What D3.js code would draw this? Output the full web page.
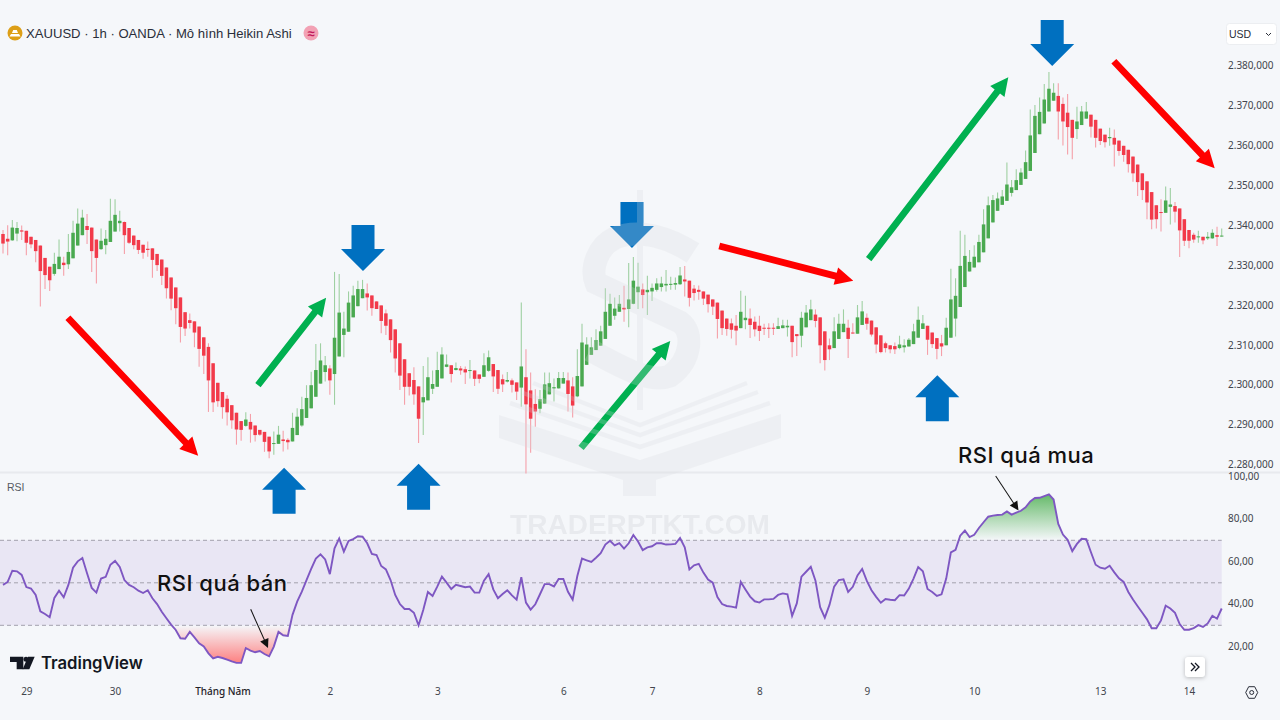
<!DOCTYPE html>
<html>
<head>
<meta charset="utf-8">
<script src="https://cdn.jsdelivr.net/npm/d3@7"></script>
<style>
  html, body { margin: 0; padding: 0; background: #f5f7fa; }
  svg { display: block; }
</style>
</head>
<body>
<svg id="chart" width="1280" height="720" font-family="'Liberation Sans', sans-serif"></svg>
<script>
// candle direction, one letter per hourly bar
const candleDir = ("RRGGRRRRRR" + "RGGRGGGGRR" + "RGGGGGRRRR" + "RRRRRRRRRR" + "RRRRRRRRRR" + "RRGRRRRRGG" +
  "RRGGGGGGGG" + "RGGGGGGGRR" + "RRRRRRRRRR" + "GGGGGGRGRR" + "GRRGGRRRGR" + "RGRRRGGGGG" + "GRRGGGGGGG" +
  "GGGRGGGRGG" + "GGGGGGRRRR" + "RRRRRRRRGG" + "RRRRRRGGGR" + "RGGGRRRRGG" + "GRRGGRRRRR" + "RRGGGGGGRR" +
  "RRGGGGGGGG" + "GGGGGGGGGG" + "GGGGGGRRRR" + "GGGRRRRGRR" + "RRRRRRRRRG" + "GRRRRRGRGG" + "RG").split("");

const bodyTop = [
  2337.9,2336.7,2339.5,2339.4,2338.8,2338.7,2337.2,2336.4,2335.0,2331.9,
  2329.7,2330.4,2332.2,2330.7,2333.4,2338.2,2340.5,2342.0,2339.9,2339.5,
  2336.5,2336.2,2336.7,2341.2,2342.7,2341.2,2340.9,2339.4,2337.5,2336.4,
  2335.2,2334.2,2334.3,2332.9,2331.5,2329.5,2327.0,2324.5,2322.0,2318.3,
  2316.3,2316.0,2314.7,2312.0,2309.6,2305.5,2300.6,2298.3,2296.6,2295.0,
  2293.1,2291.0,2291.4,2290.8,2289.9,2288.8,2288.3,2287.1,2285.5,2287.6,
  2286.4,2286.3,2289.3,2292.1,2294.0,2296.8,2300.0,2303.8,2306.2,2305.0,
  2304.2,2311.9,2318.2,2314.2,2320.7,2322.5,2324.1,2324.1,2323.0,2322.5,
  2321.0,2320.0,2318.0,2316.5,2314.0,2310.5,2306.5,2303.0,2301.3,2299.7,
  2297.0,2302.0,2300.3,2303.8,2307.7,2305.2,2305.0,2304.3,2304.2,2304.0,
  2303.8,2303.7,2302.7,2305.0,2307.0,2305.3,2303.8,2301.5,2301.3,2301.2,
  2300.7,2304.7,2302.0,2298.7,2295.3,2296.5,2300.2,2300.5,2299.5,2301.8,
  2301.8,2301.2,2299.7,2302.3,2310.7,2310.2,2309.5,2311.3,2313.5,2318.4,
  2320.4,2319.2,2320.4,2319.4,2321.5,2326.2,2324.7,2324.0,2323.9,2324.4,
  2325.5,2325.5,2325.4,2325.4,2325.6,2327.5,2326.5,2326.2,2324.2,2323.9,
  2323.5,2322.7,2321.5,2320.7,2318.7,2316.7,2315.5,2314.9,2318.4,2316.9,
  2316.7,2315.9,2314.9,2314.4,2314.4,2314.4,2314.8,2315.0,2314.9,2314.9,
  2312.8,2316.9,2318.2,2319.0,2317.7,2317.0,2313.5,2310.0,2313.5,2315.4,
  2315.4,2314.4,2313.2,2317.0,2318.5,2316.9,2316.2,2314.5,2312.5,2310.5,
  2310.0,2309.8,2310.2,2310.0,2311.4,2313.5,2316.4,2315.5,2314.9,2313.2,
  2311.8,2310.5,2314.4,2321.5,2322.4,2329.9,2332.4,2330.9,2332.2,2335.9,
  2340.3,2345.1,2346.4,2346.8,2347.3,2350.3,2349.6,2351.4,2353.3,2355.9,
  2362.6,2367.5,2368.5,2371.6,2374.3,2373.3,2372.5,2370.5,2368.3,2366.5,
  2366.1,2368.6,2368.6,2367.8,2366.5,2364.3,2362.8,2362.2,2362.0,2361.3,
  2360.0,2359.0,2357.3,2355.3,2353.1,2351.1,2348.4,2345.1,2343.4,2346.3,
  2345.3,2344.9,2344.3,2341.6,2338.9,2337.7,2337.3,2337.2,2337.2,2338.2,
  2337.6,2337.5
];
const bodyBottom = [
  2335.5,2336.0,2336.3,2338.0,2338.5,2335.7,2335.3,2333.6,2328.6,2327.6,
  2326.3,2327.9,2329.1,2330.1,2330.3,2331.8,2335.0,2337.6,2338.9,2333.6,
  2331.9,2334.1,2335.1,2335.9,2338.5,2340.6,2337.6,2335.7,2335.1,2333.9,
  2333.2,2333.9,2331.4,2330.1,2327.4,2324.3,2321.7,2319.3,2314.6,2314.2,
  2315.6,2313.2,2309.1,2307.4,2301.2,2295.7,2296.0,2294.5,2293.2,2291.2,
  2288.9,2288.8,2289.8,2288.9,2287.5,2287.6,2285.8,2283.4,2285.3,2285.3,
  2286.0,2285.7,2285.9,2287.5,2289.9,2291.8,2294.2,2297.1,2300.4,2303.3,
  2301.2,2302.8,2307.2,2312.6,2313.4,2317.0,2319.8,2321.8,2322.0,2319.3,
  2319.1,2316.1,2314.9,2311.3,2306.7,2302.4,2299.6,2299.6,2297.7,2291.6,
  2295.7,2296.2,2299.1,2299.6,2301.7,2304.6,2302.8,2303.8,2303.7,2303.2,
  2303.6,2301.6,2301.6,2302.1,2303.6,2302.2,2299.1,2300.2,2300.9,2300.1,
  2298.4,2299.4,2295.2,2291.6,2293.4,2294.1,2295.4,2297.7,2299.2,2299.2,
  2300.4,2297.8,2294.9,2297.2,2299.7,2305.1,2307.6,2308.8,2309.9,2311.6,
  2314.9,2317.4,2318.4,2319.0,2319.1,2320.4,2323.3,2322.6,2323.3,2323.5,
  2323.9,2324.6,2325.0,2325.2,2325.2,2325.3,2326.0,2321.9,2323.1,2323.4,
  2321.7,2320.3,2319.7,2316.6,2314.3,2314.1,2313.9,2313.7,2314.3,2316.3,
  2315.1,2314.0,2313.6,2314.2,2314.2,2314.2,2314.1,2314.3,2314.5,2310.8,
  2312.3,2312.4,2314.5,2316.3,2316.1,2310.0,2306.3,2309.0,2309.3,2311.6,
  2313.3,2311.6,2313.0,2312.9,2315.1,2315.4,2312.7,2310.2,2308.3,2309.3,
  2309.0,2309.0,2309.3,2309.5,2309.7,2310.3,2311.9,2314.1,2311.4,2310.3,
  2309.1,2309.7,2310.0,2311.9,2316.7,2319.6,2324.6,2328.5,2329.5,2330.8,
  2333.3,2336.8,2340.8,2343.7,2345.2,2346.2,2348.2,2348.9,2350.2,2351.7,
  2353.7,2358.2,2362.9,2365.6,2368.6,2371.3,2368.6,2366.1,2364.7,2362.0,
  2364.2,2365.2,2366.8,2364.8,2362.0,2361.2,2360.9,2361.9,2360.3,2358.7,
  2357.7,2355.4,2353.1,2350.9,2348.9,2345.8,2341.5,2341.6,2343.3,2343.2,
  2344.7,2343.5,2338.8,2336.2,2336.2,2336.5,2337.1,2336.3,2336.8,2336.8,
  2337.2,2337.3
];
const wickTop = [
  2338.9,2340.1,2341.4,2340.9,2340.0,2338.7,2337.2,2336.4,2335.0,2331.9,
  2329.7,2333.2,2336.5,2332.2,2337.9,2341.2,2344.3,2344.0,2342.9,2339.5,
  2336.5,2339.3,2338.9,2346.7,2346.6,2343.7,2341.0,2339.4,2337.5,2336.4,
  2335.2,2336.0,2334.3,2332.9,2331.5,2329.5,2327.0,2324.5,2322.0,2318.3,
  2318.0,2316.0,2314.7,2312.0,2310.5,2305.5,2300.6,2298.3,2297.5,2295.0,
  2293.1,2291.0,2293.2,2292.8,2289.9,2288.8,2288.3,2287.1,2288.4,2289.8,
  2288.6,2286.7,2293.1,2294.2,2297.1,2300.0,2303.4,2310.3,2310.5,2307.3,
  2305.0,2328.4,2327.9,2318.4,2323.5,2324.9,2326.2,2326.4,2325.5,2322.5,
  2321.0,2320.0,2319.0,2316.5,2314.0,2310.5,2306.5,2303.0,2304.5,2299.7,
  2304.8,2307.0,2303.7,2308.4,2309.5,2307.7,2305.0,2305.7,2304.8,2304.7,
  2306.3,2303.7,2302.7,2308.0,2308.7,2305.3,2303.8,2302.7,2303.3,2301.7,
  2300.7,2320.7,2309.0,2303.2,2299.0,2298.8,2303.2,2303.2,2301.7,2303.3,
  2303.3,2303.2,2302.0,2309.0,2315.4,2312.0,2312.0,2314.0,2314.9,2324.3,
  2322.9,2322.0,2322.6,2324.9,2330.6,2332.1,2330.7,2325.5,2327.4,2325.5,
  2326.8,2327.2,2328.9,2327.2,2327.0,2329.6,2329.9,2326.2,2325.1,2325.0,
  2323.5,2322.7,2321.5,2320.7,2318.7,2316.7,2316.7,2317.6,2323.7,2322.4,
  2319.2,2317.2,2317.4,2315.4,2315.5,2315.5,2316.9,2316.4,2316.4,2314.9,
  2312.8,2318.4,2320.1,2321.4,2319.0,2317.0,2313.5,2311.7,2317.0,2317.9,
  2319.0,2316.4,2315.5,2320.1,2321.1,2318.0,2316.2,2314.5,2312.5,2310.9,
  2310.0,2310.7,2312.4,2311.5,2311.8,2315.4,2319.7,2317.6,2314.9,2313.2,
  2311.8,2312.6,2316.9,2329.2,2326.8,2338.7,2337.7,2333.9,2335.1,2337.7,
  2344.1,2347.3,2347.7,2348.3,2348.9,2355.8,2351.4,2354.1,2354.4,2358.8,
  2369.1,2370.2,2372.1,2375.5,2378.5,2375.7,2375.7,2372.1,2373.0,2366.5,
  2369.8,2370.0,2371.0,2367.8,2366.5,2364.3,2362.8,2364.5,2364.1,2361.3,
  2360.0,2359.0,2357.3,2355.3,2353.1,2351.1,2348.4,2345.1,2346.6,2349.8,
  2349.4,2345.9,2344.3,2341.6,2338.9,2338.2,2338.7,2337.2,2338.4,2339.1,
  2339.7,2339.3
];
const wickBottom = [
  2333.0,2332.6,2336.2,2336.1,2336.4,2332.6,2334.3,2330.8,2319.7,2324.1,
  2323.6,2327.4,2329.1,2327.4,2329.1,2331.8,2335.0,2337.6,2335.4,2328.4,
  2325.5,2333.9,2332.8,2335.9,2338.5,2338.5,2332.9,2335.4,2334.1,2332.9,
  2331.7,2332.2,2326.9,2328.6,2325.1,2321.7,2318.8,2315.3,2310.7,2312.3,
  2314.2,2309.5,2304.6,2302.8,2293.3,2293.3,2294.6,2291.6,2289.9,2289.1,
  2285.1,2286.1,2289.6,2285.6,2285.9,2287.3,2283.3,2281.7,2282.6,2285.3,
  2283.4,2283.9,2285.9,2287.5,2289.6,2291.8,2294.2,2297.1,2300.4,2300.9,
  2297.6,2295.1,2307.2,2307.0,2313.4,2317.0,2319.8,2321.8,2318.7,2317.4,
  2319.1,2313.0,2312.6,2308.2,2303.2,2298.8,2295.1,2297.4,2295.1,2285.5,
  2287.5,2296.2,2297.8,2299.6,2301.7,2304.5,2300.7,2303.7,2302.6,2300.3,
  2301.7,2299.8,2300.5,2302.1,2303.4,2298.3,2297.8,2298.3,2300.7,2298.2,
  2296.3,2294.6,2277.9,2283.1,2289.6,2293.0,2295.4,2297.7,2295.9,2299.2,
  2300.4,2293.4,2291.9,2297.0,2299.7,2305.1,2307.6,2308.8,2309.9,2311.6,
  2314.9,2316.4,2318.4,2315.9,2314.5,2320.3,2319.1,2319.3,2317.6,2321.1,
  2323.5,2323.5,2323.5,2323.9,2323.9,2325.1,2322.2,2319.7,2321.2,2321.4,
  2320.1,2318.2,2317.6,2311.7,2312.6,2312.4,2311.7,2310.0,2314.3,2314.0,
  2311.8,2312.2,2311.1,2312.6,2311.8,2312.6,2314.1,2314.3,2312.2,2307.0,
  2307.3,2309.5,2314.5,2316.3,2314.5,2305.5,2303.7,2306.3,2309.3,2311.6,
  2313.3,2306.8,2312.9,2312.9,2315.1,2313.9,2312.2,2308.0,2308.0,2308.2,
  2308.0,2307.8,2309.0,2308.2,2309.7,2310.3,2311.9,2314.1,2307.6,2309.3,
  2306.5,2307.3,2310.0,2311.9,2312.2,2319.6,2324.6,2328.5,2329.5,2330.8,
  2333.3,2336.8,2340.8,2343.7,2345.2,2346.2,2347.3,2348.9,2350.2,2351.7,
  2353.7,2358.2,2362.9,2365.6,2368.6,2371.3,2361.6,2360.1,2357.8,2356.6,
  2361.7,2365.2,2366.8,2362.1,2359.6,2360.2,2359.6,2360.0,2354.8,2357.5,
  2356.0,2353.3,2351.0,2347.4,2346.4,2341.6,2339.1,2339.3,2338.5,2343.2,
  2340.3,2340.8,2332.1,2334.9,2334.3,2335.7,2335.7,2335.3,2336.4,2336.7,
  2334.9,2337.2
];
const rsiValues = [
  49.0,50.4,55.7,55.4,53.7,48.0,47.3,44.3,36.6,35.3,
  33.8,42.9,46.3,43.2,49.0,57.1,60.1,61.7,54.5,47.6,
  45.4,52.0,52.8,58.5,60.3,57.5,51.3,49.0,47.9,46.3,
  45.2,46.5,42.7,40.0,36.4,33.3,30.3,27.8,23.9,23.7,
  26.9,24.3,21.5,20.0,16.8,14.4,15.2,14.6,13.8,13.0,
  12.3,12.3,19.3,18.1,17.3,17.9,16.5,15.4,20.0,26.9,
  25.3,25.0,34.9,41.1,45.8,51.3,56.5,61.4,63.4,61.0,
  54.1,66.2,70.9,64.7,69.7,70.6,71.9,71.7,68.6,63.6,
  63.1,57.9,56.3,51.3,44.3,40.0,37.7,37.7,35.9,30.0,
  37.2,45.7,43.8,48.2,52.9,50.1,47.1,49.1,48.5,47.9,
  48.2,45.4,45.4,51.0,54.1,46.9,42.7,44.7,46.5,44.1,
  42.1,52.6,40.7,37.4,39.9,44.6,49.4,49.4,48.3,51.8,
  51.8,45.8,42.1,53.2,61.4,60.6,59.8,61.8,63.9,68.0,
  69.8,67.6,68.7,66.1,68.6,72.5,69.4,65.4,66.7,67.2,
  68.6,68.6,68.0,68.1,68.3,71.1,66.7,56.3,58.2,58.9,
  54.8,51.5,50.1,43.3,40.0,39.1,38.8,38.3,50.4,46.9,
  43.5,41.3,40.7,42.2,42.2,42.4,44.3,45.0,44.6,34.4,
  40.3,52.9,55.2,57.5,51.0,38.5,33.6,39.6,48.2,51.3,
  51.6,45.7,48.1,53.5,56.5,50.9,46.5,43.4,40.6,42.4,
  42.0,41.8,44.2,44.0,47.3,52.0,57.4,55.4,47.1,45.7,
  43.8,44.6,52.0,64.3,65.5,72.2,74.6,71.5,72.6,75.8,
  78.5,81.1,81.6,81.9,82.1,83.6,82.1,83.0,83.9,85.5,
  88.3,89.9,90.0,90.8,91.6,89.2,77.7,72.7,70.2,64.9,
  68.3,70.7,70.5,64.4,58.5,57.1,56.6,58.0,54.9,52.1,
  50.4,45.7,42.1,39.0,35.9,32.8,28.6,28.6,32.3,39.2,
  37.9,35.9,30.6,27.9,27.9,28.7,30.1,29.2,30.9,34.5,
  33.1,37.9
];

const priceTicks = [2280,2290,2300,2310,2320,2330,2340,2350,2360,2370,2380];
const rsiTicks = [20,40,60,80,100];
const rsiLevels = [30,50,70];
const timeTickBars = [5,24,47,70,93,120,139,162,185,208,235,254];
const timeTickLabels = ["29","30","Tháng Năm","2","3","6","7","8","9","10","13","14"];

// hand drawn annotations, anchored on bar number / price
const trendArrows = [
  { color: "#ff0000", from: [13.9,2316.9], to: [41.8,2282.3] },
  { color: "#00b050", from: [54.6,2300.0], to: [69.2,2321.9] },
  { color: "#00b050", from: [123.8,2284.3], to: [142.9,2311.1] },
  { color: "#ff0000", from: [153.4,2334.9], to: [182.1,2326.2] },
  { color: "#00b050", from: [185.4,2331.6], to: [215.3,2377.2] },
  { color: "#ff0000", from: [237.9,2381.2], to: [259.5,2354.4] }
];
const pivotArrows = [
  { dir: 1, bar: 77.1, price: 2328.6 },
  { dir: 1, bar: 134.7, price: 2334.4 },
  { dir: 1, bar: 224.7, price: 2380.0 },
  { dir: -1, bar: 60.2, price: 2279.3 },
  { dir: -1, bar: 89.0, price: 2280.3 },
  { dir: -1, bar: 200.1, price: 2302.5 }
];

const svg = d3.select("#chart");
const x = d3.scaleLinear().domain([0, 261]).range([3, 1221.7]);
const yPrice = d3.scaleLinear().domain([2280, 2380]).range([465, 66]);
const yRsi = d3.scaleLinear().domain([30, 70]).range([625.3, 540.3]);
const viLocale = d3.formatLocale({ decimal: ",", thousands: ".", grouping: [3], currency: ["", ""] });
const bars = d3.range(candleDir.length);

// pane separator
svg.append("line").attr("x1", 0).attr("x2", 1280).attr("y1", 472.5).attr("y2", 472.5)
  .attr("stroke", "#e8eaee").attr("stroke-width", 2);

// candles
const green = "#4aa950", red = "#f23a4a";
const candles = svg.append("g").selectAll("g").data(bars).join("g");
candles.append("line")
  .attr("x1", i => x(i)).attr("x2", i => x(i))
  .attr("y1", i => yPrice(wickTop[i])).attr("y2", i => yPrice(wickBottom[i]))
  .attr("stroke", i => candleDir[i] === "G" ? "#9fd0a2" : "#f5a0a9")
  .attr("stroke-width", 1.1);
candles.append("rect")
  .attr("x", i => x(i) - 1.75).attr("width", 3.5)
  .attr("y", i => yPrice(bodyTop[i]))
  .attr("height", i => Math.max(1, yPrice(bodyBottom[i]) - yPrice(bodyTop[i])))
  .attr("fill", i => candleDir[i] === "G" ? green : red);

// RSI band
svg.append("rect").attr("x", 0).attr("width", x(261))
  .attr("y", yRsi(70)).attr("height", yRsi(30) - yRsi(70))
  .attr("fill", "#7e57c2").attr("opacity", 0.1);
svg.append("g").selectAll("line").data(rsiLevels).join("line")
  .attr("x1", 0).attr("x2", x(261))
  .attr("y1", d => yRsi(d)).attr("y2", d => yRsi(d))
  .attr("stroke", "#a3a1ad").attr("stroke-dasharray", "4 3");

// overbought / oversold fills
const defs = svg.append("defs");
function addGradient(id, from, to, color) {
  const g = defs.append("linearGradient").attr("id", id).attr("gradientUnits", "userSpaceOnUse")
    .attr("x1", 0).attr("x2", 0).attr("y1", yRsi(from)).attr("y2", yRsi(to));
  g.append("stop").attr("offset", 0).attr("stop-color", color).attr("stop-opacity", 0.85);
  g.append("stop").attr("offset", 1).attr("stop-color", color).attr("stop-opacity", 0);
}
addGradient("obFill", 91.6, 70, "#4caf50");
addGradient("osFill", 12.3, 30, "#ff6b6b");
defs.append("clipPath").attr("id", "obClip").append("rect")
  .attr("x", 0).attr("width", 1280).attr("y", 0).attr("height", yRsi(70));
defs.append("clipPath").attr("id", "osClip").append("rect")
  .attr("x", 0).attr("width", 1280).attr("y", yRsi(30)).attr("height", 200);
const rsiArea = level => d3.area().x(i => x(i)).y0(yRsi(level)).y1(i => yRsi(rsiValues[i]));
svg.append("path").datum(bars).attr("d", rsiArea(70)).attr("fill", "url(#obFill)").attr("clip-path", "url(#obClip)");
svg.append("path").datum(bars).attr("d", rsiArea(30)).attr("fill", "url(#osFill)").attr("clip-path", "url(#osClip)");

// RSI line
svg.append("path").datum(bars)
  .attr("d", d3.line().x(i => x(i)).y(i => yRsi(rsiValues[i])))
  .attr("fill", "none").attr("stroke", "#7e57c2").attr("stroke-width", 1.9);

// axes
const axisColor = "#42454d";
const priceAxis = svg.append("g").attr("transform", "translate(1221,-0.5)")
  .call(d3.axisRight(yPrice).tickValues(priceTicks).tickSize(0).tickPadding(7).tickFormat(viLocale.format(",.3f")));
const rsiAxis = svg.append("g").attr("transform", "translate(1221,-0.5)")
  .call(d3.axisRight(yRsi).tickValues(rsiTicks).tickSize(0).tickPadding(7).tickFormat(viLocale.format(".2f")));
const timeAxis = svg.append("g").attr("transform", "translate(0,685)")
  .call(d3.axisBottom(x).tickValues(timeTickBars).tickSize(0).tickPadding(3)
    .tickFormat((d, i) => timeTickLabels[i]));
[priceAxis, rsiAxis, timeAxis].forEach(a => {
  a.select(".domain").remove();
  a.selectAll("text").attr("fill", axisColor).attr("font-size", 10)
    .attr("font-family", "'Noto Sans', sans-serif");
});
timeAxis.selectAll("text").filter((d, i) => timeTickLabels[i] === "Tháng Năm")
  .attr("font-weight", 500).attr("fill", "#1f2229");

// slanted trend arrows
function drawTrendArrow(a) {
  const x0 = x(a.from[0]), y0 = yPrice(a.from[1]), x1 = x(a.to[0]), y1 = yPrice(a.to[1]);
  const ang = Math.atan2(y1 - y0, x1 - x0) * 180 / Math.PI;
  const len = Math.hypot(x1 - x0, y1 - y0);
  const head = 18, half = 9, shaft = 3.4;
  svg.append("path")
    .attr("transform", `translate(${x0},${y0}) rotate(${ang})`)
    .attr("d", d3.line()([[0, -shaft], [len - head, -shaft], [len - head, -half], [len, 0],
      [len - head, half], [len - head, shaft], [0, shaft]]) + "Z")
    .attr("fill", a.color);
}
trendArrows.forEach(drawTrendArrow);

// block arrows marking the pivots
svg.append("g").selectAll("path").data(pivotArrows).join("path")
  .attr("transform", d => `translate(${x(d.bar)},${yPrice(d.price)}) scale(1,${d.dir})`)
  .attr("d", d3.line()([[0, 0], [22, -22], [11.5, -22], [11.5, -46], [-11.5, -46], [-11.5, -22], [-22, -22]]) + "Z")
  .attr("fill", "#0070c0");

// RSI callouts
function drawCallout(label, tx, ty, from, to) {
  const ang = Math.atan2(to[1] - from[1], to[0] - from[0]) * 180 / Math.PI;
  const len = Math.hypot(to[0] - from[0], to[1] - from[1]);
  svg.append("text").attr("x", tx).attr("y", ty).text(label)
    .attr("font-family", "Inter, sans-serif").attr("font-weight", 500)
    .attr("font-size", 22).attr("letter-spacing", 0.5).attr("fill", "#111");
  const g = svg.append("g").attr("transform", `translate(${from[0]},${from[1]}) rotate(${ang})`);
  g.append("line").attr("x2", len - 6).attr("stroke", "#111").attr("stroke-width", 1);
  g.append("path").attr("d", d3.line()([[len, 0], [len - 9, -4.5], [len - 9, 4.5]]) + "Z").attr("fill", "#111");
}
drawCallout("RSI quá bán", 157, 591, [250.7, 609.3], [268, 648]);
drawCallout("RSI quá mua", 958, 463, [995.7, 476], [1018.5, 510.5]);

// header
svg.append("circle").attr("cx", 15).attr("cy", 33).attr("r", 7.5).attr("fill", "#dd9f17");
svg.append("path").attr("d", "M9.5 36.5h11l-1.5-2.5h-8z M12 33h6l-1.2-3h-3.6z").attr("fill", "#fff");
svg.append("text").attr("x", 26).attr("y", 37.5).attr("font-size", 13.1).attr("fill", "#2a2e39")
  .text("XAUUSD · 1h · OANDA · Mô hình Heikin Ashi");
svg.append("circle").attr("cx", 311).attr("cy", 33).attr("r", 7.5).attr("fill", "#f2a1b4");
svg.append("text").attr("x", 311).attr("y", 37.5).attr("font-size", 13).attr("font-weight", 700).attr("text-anchor", "middle")
  .attr("fill", "#c2185b").text("≈");
svg.append("text").attr("x", 7).attr("y", 491).attr("font-size", 10.5).attr("fill", "#555a63").text("RSI");

// currency button
svg.append("rect").attr("x", 1226.5).attr("y", 23.5).attr("width", 50).attr("height", 21).attr("rx", 3)
  .attr("fill", "#fff").attr("stroke", "#eceef1");
svg.append("text").attr("x", 1229).attr("y", 38).attr("font-size", 10.5).attr("fill", "#2a2e39").text("USD");
svg.append("path").attr("d", "M1266 33l2.5 2.5 2.5-2.5").attr("fill", "none").attr("stroke", "#2a2e39");

// TradingView logo
const tv = svg.append("g").attr("transform", "translate(0,470) scale(0.3333)").attr("fill", "#131722");
tv.append("path").attr("d", "M30 560h40v38h-20v-22h-20z");
tv.append("circle").attr("cx", 78).attr("cy", 568).attr("r", 7.5);
tv.append("path").attr("d", "M84 560h20l-16 38h-20z");
svg.append("text").attr("x", 41).attr("y", 669).attr("font-family", "Inter, sans-serif").attr("font-weight", 600)
  .attr("font-size", 16.7).attr("fill", "#131722").text("TradingView");

// scroll button and settings icon
svg.append("rect").attr("x", 1185).attr("y", 657).attr("width", 20).attr("height", 20).attr("rx", 3)
  .attr("fill", "#fff").style("filter", "drop-shadow(0 1px 2px rgba(0,0,0,.25))");
svg.append("path").attr("d", "M1191 663l4 4-4 4 M1195 663l4 4-4 4").attr("fill", "none").attr("stroke", "#131722").attr("stroke-width", 1.3);
svg.append("path").attr("d", "M1245.7 692.5l3-5.8h6l3 5.8-3 5.8h-6z").attr("fill", "none").attr("stroke", "#2a2e39");
svg.append("circle").attr("cx", 1251.7).attr("cy", 692.5).attr("r", 2).attr("fill", "none").attr("stroke", "#2a2e39");

// watermark sits over everything, faint
const wm = svg.append("g").attr("fill", "#d8dade").attr("opacity", 0.24);
wm.append("rect").attr("x", 637).attr("y", 190).attr("width", 6).attr("height", 220);
wm.append("path").attr("fill", "none").attr("stroke", "#d8dade").attr("stroke-width", 23)
  .attr("d", "M693 253C670 238 640 228 615 238C598 246 590 268 596 283L680 322C694 332 692 360 670 376C650 384 620 366 590 350");
wm.append("path").attr("d", "M499 415L640 460L781 414V438L656 480V496H623V480L499 438Z");
[[510,403,640,447,770,403],[523,393,640,435,758,392],[533,383,640,425,747,383]].forEach(c => {
  wm.append("path").attr("fill", "none").attr("stroke", "#d8dade").attr("stroke-width", 4.5)
    .attr("d", `M${c[0]} ${c[1]}L${c[2]} ${c[3]}L${c[4]} ${c[5]}`);
});
wm.append("text").attr("x", 640).attr("y", 534).attr("text-anchor", "middle")
  .attr("font-family", "'Liberation Sans', sans-serif").attr("font-weight", 700).attr("font-size", 28)
  .attr("fill", "#b9bcc2").attr("opacity", 0.9).text("TRADERPTKT.COM");
</script>
</body>
</html>
